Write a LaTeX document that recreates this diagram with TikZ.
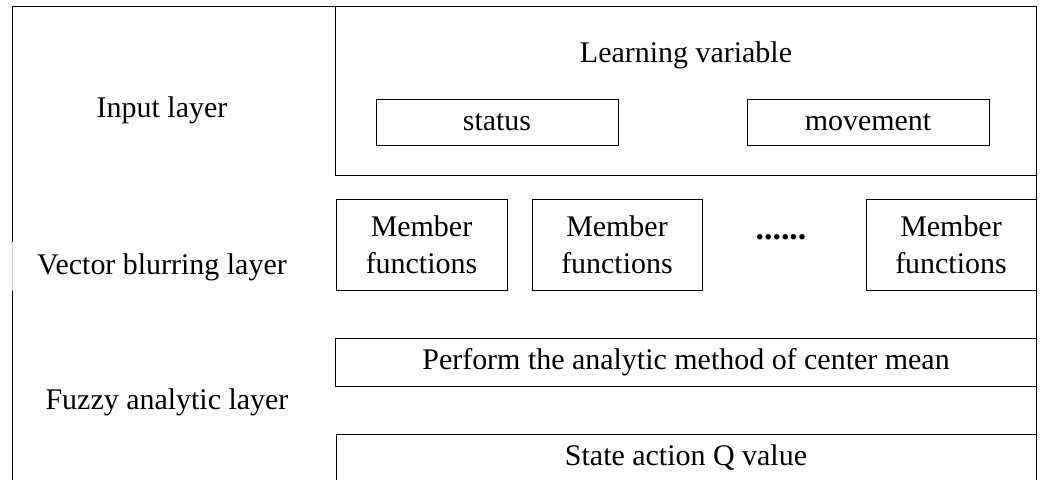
\documentclass[tikz,border=0pt]{standalone}
\usepackage{fontspec}
\setmainfont{Liberation Serif}
\usetikzlibrary{positioning}

\begin{document}
\begin{tikzpicture}[x=0.025cm, y=-0.025cm,
    every node/.style={font=\fontsize{21.3}{26.3}\selectfont},
    box/.style={draw, rectangle, line width=0.6pt, inner sep=0pt, outer sep=0pt, align=center},
    label/.style={align=center}]
            \useasboundingbox (0,0) rectangle (1042,480);
            % Outer frame
            \draw[line width=0.6pt] (12,242) -- (12,6) -- (1036,6) -- (1036,480);
            \draw[line width=0.6pt, gray!40] (12,242) -- (12,291);
            \draw[line width=0.6pt] (12,291) -- (12,480);
            
            % Layer names
            \node[label] (input) at (162,110) {Input layer};
            \node[label] (vector) at (162,267) {Vector blurring layer};
            \node[label] (fuzzy) at (167,402) {Fuzzy analytic layer};
            
            % Input layer
            \node[box, minimum width=17.5cm, minimum height=4.225cm] (learn) at (686,90.5) {};
            \node[label] (learntext) at (686,55) {Learning variable};
            \node[box, minimum width=6.05cm, minimum height=1.15cm] (status) at (497,122) {status};
            \node[box, minimum width=6.05cm, minimum height=1.15cm] (movement) at (868,122) {movement};
            
            % Vector blurring layer
            \node[box, minimum width=4.275cm, minimum height=2.275cm] (mf1) at (421.5,244.5) {Member\\functions};
            \node[box, minimum width=4.25cm, minimum height=2.275cm] (mf2) at (617,244.5) {Member\\functions};
            \node[label, font=\fontsize{24}{28}\selectfont\bfseries] (dots) at (781,237) {......};
            \node[box, minimum width=4.25cm, minimum height=2.275cm] (mfn) at (951,244.5) {Member\\functions};
            
            % Fuzzy analytic layer
            \node[box, minimum width=17.5cm, minimum height=1.2cm] (center) at (686,362) {Perform the analytic method of center mean};
            \draw[line width=0.6pt] (336,480) -- (336,434) -- (1036,434);
            \node[label] (qvalue) at (686,458) {State action Q value};
        \end{tikzpicture}
\end{document}
